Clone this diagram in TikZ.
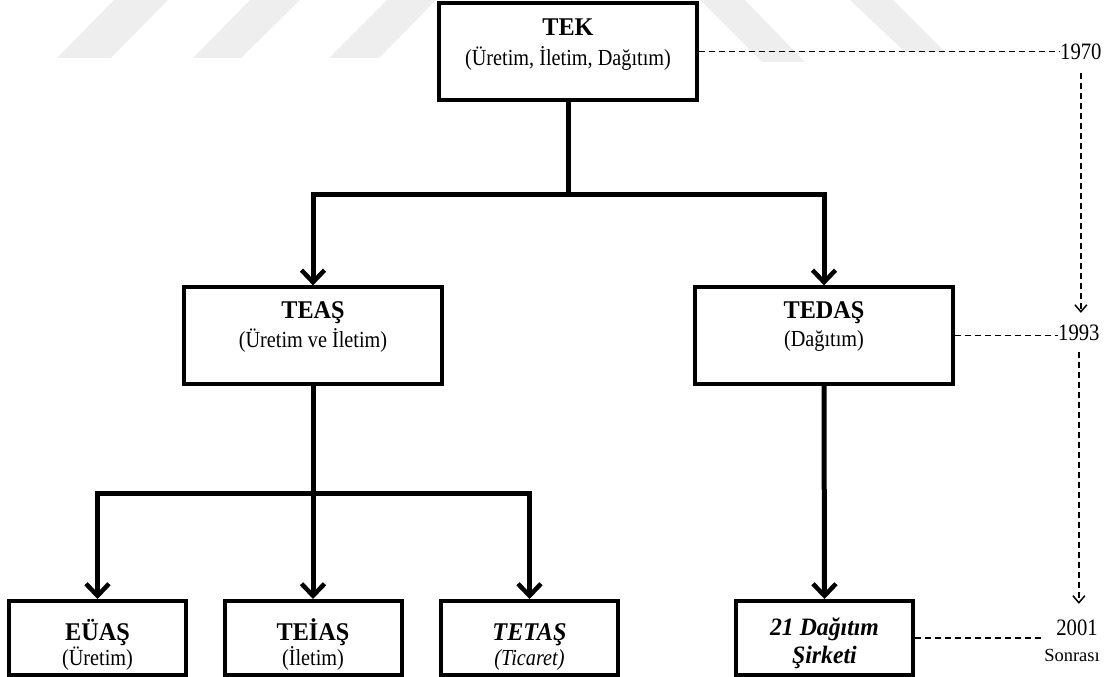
\documentclass[tikz,border=0pt]{standalone}
\usepackage{fontspec}
\setmainfont{Liberation Serif}
\newfontfamily\subf{Liberation Serif}[FakeStretch=0.88]
\newfontfamily\ttlf{Liberation Serif}[FakeStretch=0.95]
\usetikzlibrary{arrows.meta}
\definecolor{wm}{HTML}{EEEEEE}
\begin{document}
\begin{tikzpicture}[x=1pt,y=-1pt,
  box/.style={draw, line width=3.2pt, fill=white, minimum width=258pt, minimum height=97pt, inner sep=0pt},
  lbox/.style={draw, line width=4pt, fill=white, minimum width=177pt, minimum height=74pt, inner sep=0pt},
  ttl/.style={font=\ttlf\fontsize{25.5}{28}\selectfont\bfseries, anchor=base, inner sep=0pt},
  sub/.style={font=\subf\fontsize{23}{26}\selectfont, anchor=base, inner sep=0pt},
  conn/.style={line width=5pt, -{Straight Barb[length=12pt,width=23pt,line width=4.5pt]}},
  trunk/.style={line width=5pt},
  dsh/.style={line width=1.6pt, dash pattern=on 6pt off 4pt},
  darr/.style={dsh, -{Straight Barb[length=7pt,width=12pt,line width=1.5pt]}},
  yr/.style={font=\subf\fontsize{23.5}{26}\selectfont, inner sep=0pt},
]
\useasboundingbox (0,0) rectangle (1112,677);
% watermark stripes
\fill[wm] (57,58) -- (111,58) -- (168,0) -- (114,0) -- cycle;
\fill[wm] (193,58) -- (241,58) -- (300,0) -- (250,0) -- cycle;
\fill[wm] (329,58) -- (379,58) -- (436,0) -- (387,0) -- cycle;
\fill[wm] (700,0) -- (745,0) -- (805,62) -- (762,62) -- cycle;
\fill[wm] (850,0) -- (893,0) -- (945,52) -- (905,52) -- cycle;

% boxes
\node[box] (tek) at (568,51.5) {};
\node[box] (teas) at (313,335.5) {};
\node[box] (tedas) at (824,335.5) {};
\node[lbox] (euas) at (97.5,638) {};
\node[lbox] (teias) at (313,638) {};
\node[lbox] (tetas) at (529.5,638) {};
\node[lbox] (dag) at (824.5,638) {};

% texts
\node[ttl] (tek-t) at (568,36) {TEK};
\node[sub] (tek-s) at (568,66) {(Üretim, İletim, Dağıtım)};
\node[ttl] (teas-t) at (313,318) {TEAŞ};
\node[sub] (teas-s) at (313,347) {(Üretim ve İletim)};
\node[ttl] (tedas-t) at (824,318) {TEDAŞ};
\node[sub] (tedas-s) at (824,346) {(Dağıtım)};
\node[ttl] (euas-t) at (97.5,640) {EÜAŞ};
\node[sub] (euas-s) at (97.5,665) {(Üretim)};
\node[ttl] (teias-t) at (313,640) {TEİAŞ};
\node[sub] (teias-s) at (313,665) {(İletim)};
\node[ttl, font=\ttlf\fontsize{25.5}{28}\selectfont\bfseries\itshape] (tetas-t) at (529.5,640) {TETAŞ};
\node[sub, font=\subf\fontsize{23}{26}\selectfont\itshape] (tetas-s) at (529.5,665) {(Ticaret)};
\node[ttl, font=\ttlf\fontsize{25}{28}\selectfont\bfseries\itshape] (dag-t) at (824.5,635) {21 Dağıtım};
\node[ttl, font=\ttlf\fontsize{25}{28}\selectfont\bfseries\itshape] (dag-s) at (824.5,663) {Şirketi};

% connectors
\coordinate (j1) at (568,194);
\draw[trunk] (tek.south) -- (j1);
\draw[conn] (j1) -| (teas.north);
\draw[conn] (j1) -| (tedas.north);
\coordinate (j2) at (313,493);
\draw[trunk] (teas.south) -- (j2);
\draw[conn] (j2) -| (euas.north);
\draw[conn] (j2) -| (tetas.north);
\draw[conn] (j2) -- (teias.north);
\draw[conn] (tedas.south) -- (dag.north);

% timeline
\node[yr, anchor=west] (y1970) at (1060,52) {1970};
\node[yr, anchor=west] (y1993) at (1058,333) {1993};
\node[yr] (y2001) at (1077,628) {2001};
\node[font=\fontsize{18.5}{21}\selectfont, inner sep=0pt] (sonra) at (1072,655) {Sonrası};
\draw[dsh] (tek.east) -- (tek.east -| y1970.west);
\draw[dsh] (tedas.east) -- (tedas.east -| y1993.west);
\draw[dsh, shorten >=13pt] (dag.east) -- (dag.east -| y2001.west);
\draw[darr, shorten <=13pt, shorten >=12pt] (y1970.south) -- (y1970.south |- y1993.north);
\draw[darr, shorten <=11pt, shorten >=16pt] (y1993.south) -- (y1993.south |- y2001.north);
\end{tikzpicture}
\end{document}
